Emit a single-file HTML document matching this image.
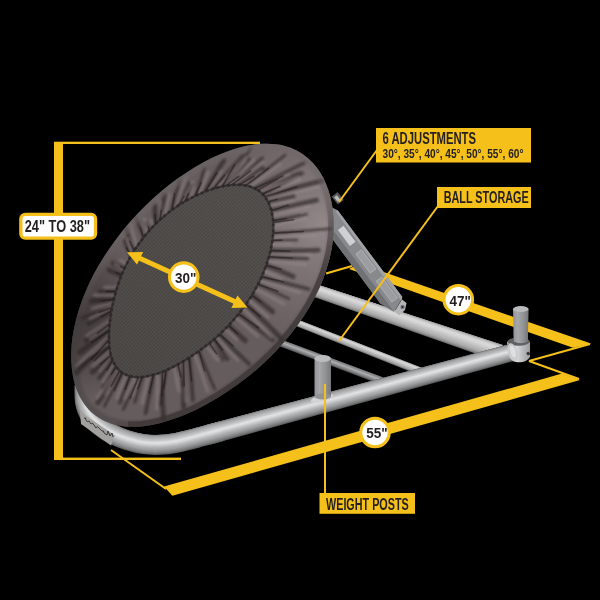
<!DOCTYPE html>
<html><head><meta charset="utf-8"><title>Rebounder dimensions</title>
<style>
html,body{margin:0;padding:0;background:#000;}
body{width:600px;height:600px;overflow:hidden;font-family:"Liberation Sans",sans-serif;}
svg{display:block}
text{font-family:"Liberation Sans",sans-serif;font-weight:bold;fill:#231f20}
</style></head><body>
<svg width="600" height="600" viewBox="0 0 600 600">
<defs>
<linearGradient id="gPost" x1="0" y1="0" x2="1" y2="0">
<stop offset="0" stop-color="#939497"/><stop offset="0.3" stop-color="#a6a7a9"/><stop offset="0.7" stop-color="#8f9092"/><stop offset="1" stop-color="#76777a"/>
</linearGradient>
<linearGradient id="gCollar" x1="0" y1="0" x2="1" y2="0">
<stop offset="0" stop-color="#a9abae"/><stop offset="0.4" stop-color="#d9dadb"/><stop offset="1" stop-color="#9a9c9f"/>
</linearGradient>
<radialGradient id="gHi" gradientUnits="userSpaceOnUse" cx="325" cy="225" r="135"><stop offset="0" stop-color="#9c9093" stop-opacity="0.85"/><stop offset="0.45" stop-color="#8a7f82" stop-opacity="0.55"/><stop offset="1" stop-color="#7a7072" stop-opacity="0"/></radialGradient>
<radialGradient id="gLo" gradientUnits="userSpaceOnUse" cx="70" cy="318" r="85"><stop offset="0" stop-color="#2a2425" stop-opacity="0.65"/><stop offset="0.5" stop-color="#2a2425" stop-opacity="0.4"/><stop offset="1" stop-color="#2a2425" stop-opacity="0"/></radialGradient>
<linearGradient id="gMat" gradientUnits="userSpaceOnUse" x1="260" y1="190" x2="130" y2="370">
<stop offset="0" stop-color="#504d4a"/><stop offset="0.5" stop-color="#4d4a47"/><stop offset="1" stop-color="#4a4744"/>
</linearGradient>
<pattern id="mesh" width="2.6" height="2.6" patternUnits="userSpaceOnUse" patternTransform="rotate(-42)">
<rect width="1.3" height="1.3" fill="#000" fill-opacity="0.10"/><rect x="1.3" y="1.3" width="1.3" height="1.3" fill="#fff" fill-opacity="0.05"/>
</pattern>
<filter id="soft" x="-5%" y="-5%" width="110%" height="110%"><feGaussianBlur stdDeviation="0.6"/></filter>
<filter id="soft2" x="-5%" y="-5%" width="110%" height="110%"><feGaussianBlur stdDeviation="1.3"/></filter>
<linearGradient id="gSide" gradientUnits="userSpaceOnUse" x1="0" y1="190" x2="0" y2="270"><stop offset="0" stop-color="#3a3435" stop-opacity="0"/><stop offset="1" stop-color="#3a3435" stop-opacity="0.7"/></linearGradient>
<linearGradient id="gRim" gradientUnits="userSpaceOnUse" x1="230" y1="200" x2="290" y2="380"><stop offset="0" stop-color="#6f6667" stop-opacity="0.5"/><stop offset="0.5" stop-color="#3a3535" stop-opacity="0.25"/><stop offset="1" stop-color="#2a2626" stop-opacity="0.3"/></linearGradient>
<clipPath id="clipCover"><path d="M312.2,162.3 C315.1,165.4 317.7,168.7 320.0,172.3 C322.3,175.9 324.3,179.8 326.0,183.9 C327.7,188.0 329.2,192.3 330.3,196.8 C331.4,201.3 332.3,206.1 332.9,211.0 C333.5,215.9 333.8,221.1 333.7,226.4 C333.6,231.7 333.3,237.2 332.5,242.9 C331.7,248.6 330.6,254.6 329.0,260.6 C327.4,266.6 325.5,272.7 323.1,278.9 C320.7,285.1 317.8,291.5 314.6,297.7 C311.4,303.9 307.7,310.1 303.7,316.2 C299.7,322.2 295.4,328.2 290.8,334.0 C286.2,339.8 281.3,345.4 276.3,350.7 C271.3,356.0 266.0,361.1 260.6,365.9 C255.3,370.7 249.7,375.3 244.2,379.6 C238.7,383.9 233.0,387.9 227.4,391.6 C221.8,395.3 216.1,398.8 210.4,402.0 C204.7,405.2 199.1,408.2 193.4,410.9 C187.7,413.6 182.0,415.9 176.4,418.0 C170.8,420.1 165.2,421.8 159.7,423.2 C154.2,424.6 148.7,425.6 143.4,426.2 C138.1,426.8 133.0,427.0 128.1,426.7 C123.2,426.4 118.4,425.7 114.0,424.5 C109.6,423.3 105.4,421.6 101.6,419.5 C97.8,417.4 94.2,414.9 91.1,412.0 C88.0,409.1 85.3,405.6 82.9,402.0 C80.5,398.4 78.5,394.4 76.8,390.1 C75.1,385.9 73.9,381.3 73.0,376.5 C72.1,371.7 71.5,366.6 71.3,361.4 C71.1,356.2 71.1,350.8 71.6,345.3 C72.1,339.8 72.9,334.1 74.1,328.3 C75.3,322.5 76.8,316.6 78.6,310.6 C80.4,304.6 82.7,298.5 85.2,292.4 C87.7,286.3 90.6,280.2 93.8,274.1 C97.0,268.0 100.6,261.9 104.4,256.0 C108.2,250.1 112.4,244.1 116.7,238.4 C121.0,232.7 125.6,227.0 130.4,221.6 C135.2,216.2 140.2,210.9 145.4,205.8 C150.6,200.8 155.9,195.9 161.3,191.3 C166.7,186.7 172.3,182.4 178.0,178.3 C183.7,174.2 189.4,170.4 195.2,167.0 C201.0,163.6 206.8,160.4 212.6,157.6 C218.4,154.8 224.3,152.4 230.0,150.4 C235.7,148.4 241.4,146.8 246.9,145.7 C252.4,144.6 257.8,143.9 263.0,143.7 C268.2,143.5 273.2,143.8 277.9,144.5 C282.6,145.2 287.1,146.4 291.2,148.0 C295.3,149.6 299.1,151.6 302.6,154.0 C306.1,156.4 309.3,159.2 312.2,162.3Z"/></clipPath>
<clipPath id="clipMat"><path d="M257.9,190.2 C260.1,191.6 262.1,193.4 263.8,195.4 C265.5,197.4 267.0,199.8 268.3,202.3 C269.6,204.8 270.6,207.6 271.4,210.6 C272.2,213.6 272.8,216.8 273.1,220.1 C273.4,223.4 273.5,226.9 273.3,230.5 C273.1,234.1 272.8,237.9 272.2,241.8 C271.6,245.7 270.9,249.6 269.8,253.7 C268.8,257.8 267.4,262.0 265.9,266.2 C264.4,270.4 262.7,274.7 260.7,278.9 C258.7,283.1 256.5,287.4 254.1,291.6 C251.7,295.8 249.0,300.0 246.2,304.0 C243.4,308.0 240.3,311.9 237.2,315.7 C234.1,319.5 230.8,323.2 227.5,326.6 C224.2,330.1 220.8,333.3 217.3,336.4 C213.9,339.5 210.3,342.4 206.8,345.2 C203.3,348.0 199.7,350.6 196.2,353.0 C192.7,355.4 189.1,357.7 185.6,359.9 C182.1,362.1 178.5,364.1 174.9,366.0 C171.3,367.9 167.8,369.6 164.2,371.1 C160.6,372.6 157.1,373.8 153.6,374.8 C150.1,375.8 146.7,376.5 143.4,376.9 C140.1,377.2 136.9,377.3 133.9,376.9 C130.9,376.5 128.1,375.8 125.6,374.6 C123.1,373.5 120.8,371.9 118.9,370.0 C117.0,368.1 115.3,365.8 114.0,363.3 C112.7,360.8 111.6,358.0 110.8,355.0 C110.0,352.0 109.6,348.8 109.3,345.5 C109.0,342.2 109.0,338.8 109.0,335.3 C109.0,331.8 109.3,328.3 109.6,324.7 C109.9,321.1 110.4,317.5 111.0,313.8 C111.6,310.1 112.2,306.3 113.1,302.5 C113.9,298.7 114.9,294.9 116.1,290.9 C117.3,286.9 118.5,282.8 120.1,278.7 C121.7,274.6 123.5,270.3 125.5,266.1 C127.5,261.9 129.9,257.7 132.4,253.5 C134.9,249.3 137.7,245.1 140.7,241.1 C143.7,237.1 146.9,233.2 150.2,229.5 C153.5,225.8 157.0,222.4 160.6,219.2 C164.2,216.0 167.9,212.9 171.5,210.2 C175.1,207.5 178.8,205.0 182.4,202.8 C186.0,200.6 189.7,198.6 193.3,196.8 C196.9,195.0 200.3,193.5 203.8,192.1 C207.3,190.7 210.7,189.5 214.1,188.5 C217.5,187.5 220.8,186.6 224.0,186.0 C227.2,185.4 230.4,185.0 233.5,184.8 C236.6,184.6 239.6,184.7 242.5,185.0 C245.4,185.3 248.1,185.8 250.7,186.7 C253.3,187.6 255.7,188.8 257.9,190.2Z"/></clipPath>
</defs>
<rect width="600" height="600" fill="#000"/>

<g fill="#F5C01A"><rect x="54" y="142" width="9" height="318"/><rect x="54" y="141.7" width="206" height="2.3"/><rect x="54" y="457.6" width="127" height="2.4"/></g>
<polygon points="349,269 359,263.5 591,343.6 573,347.8" fill="#F5C01A"/>
<line x1="326" y1="273.5" x2="352" y2="266" stroke="#F5C01A" stroke-width="2"/>
<line x1="529" y1="361" x2="590" y2="344" stroke="#F5C01A" stroke-width="2"/>
<polygon points="164,486.5 562,373.6 580,380 172.4,495.8" fill="#F5C01A"/>
<line x1="111" y1="450" x2="166" y2="489" stroke="#F5C01A" stroke-width="2"/>
<line x1="529" y1="361" x2="579" y2="379" stroke="#F5C01A" stroke-width="2"/>
<polygon points="298.0,278.2 502.7,345.0 497.3,361.2 294.0,290.0" fill="#6a6a6b"/><polygon points="298.0,278.2 502.7,345.0 497.5,360.5 294.2,289.5" fill="#828283"/><polygon points="298.0,278.2 502.7,345.0 497.8,359.7 294.4,288.9" fill="#929293"/><polygon points="297.9,278.3 502.7,345.2 498.1,358.7 294.6,288.2" fill="#a2a2a3"/><polygon points="297.9,278.5 502.6,345.5 498.5,357.5 294.9,287.3" fill="#b0b0b1"/><polygon points="297.8,278.8 502.5,345.9 499.0,355.9 295.3,286.2" fill="#bababb"/><polygon points="297.6,279.3 502.2,346.5 499.7,353.9 295.8,284.7" fill="#c6c6c7"/><polygon points="297.4,279.9 502.0,347.3 500.3,352.3 296.2,283.5" fill="#d0d0d1"/><polygon points="297.2,280.5 501.7,348.1 500.8,350.7 296.6,282.3" fill="#d8d8d9"/>
<polygon points="291.2,317.1 427.4,370.0 424.6,377.2 288.8,323.3" fill="#6a6a6b"/><polygon points="291.2,317.1 427.4,370.0 424.8,376.6 289.0,322.7" fill="#929293"/><polygon points="291.1,317.3 427.4,370.2 425.2,375.6 289.3,321.9" fill="#b0b0b1"/><polygon points="291.0,317.7 427.2,370.6 425.9,374.0 289.9,320.5" fill="#c6c6c7"/><polygon points="290.7,318.3 426.9,371.3 426.4,372.5 290.4,319.3" fill="#d8d8d9"/>
<polygon points="271.2,335.8 383.3,377.4 380.7,384.6 268.8,342.2" fill="#58595a"/><polygon points="271.2,335.9 383.3,377.5 381.1,383.5 269.2,341.2" fill="#78797a"/><polygon points="270.9,336.5 383.0,378.2 381.5,382.4 269.5,340.3" fill="#8d8e8f"/><polygon points="270.5,337.6 382.6,379.4 381.9,381.4 269.9,339.3" fill="#a2a3a4"/><polygon points="270.3,338.1 382.4,380.0 382.2,380.6 270.1,338.6" fill="#b2b3b4"/>
<path d="M513,309 L528.6,309 L527.8,343 L513.8,343Z" fill="url(#gPost)"/><ellipse cx="520.8" cy="309" rx="7.8" ry="3" fill="#b9bbbd"/>
<polygon points="337.6,210.2 402.2,296.8 402.0,299.1 394.0,311.8 380.4,303.4 315.7,216.6 329.6,206.2" fill="#87898c"/>
<polygon points="337.6,210.2 402.2,296.8 402.0,299.1 401.1,300.7 335.7,211.6" fill="#a1a3a6"/>
<polygon points="320.4,213.1 394.0,311.8 380.4,303.4 315.7,216.6" fill="#707275"/>
<polygon points="343.6,225.7 355.5,241.8 349.9,245.9 337.9,229.9" fill="#cfd0d2"/>
<polygon points="361.5,249.8 375.9,269.0 370.2,273.2 355.9,254.0" fill="#9b9da0" stroke="#bcbdbf" stroke-width="0.7"/>
<polygon points="381.8,277.1 397.4,297.9 391.8,302.1 376.2,281.2" fill="#9b9da0" stroke="#bcbdbf" stroke-width="0.7"/>
<polygon points="394.5,311.5 402,299.5 406.5,303 405,310 399,315.5" fill="#b4b5b7"/>
<circle cx="402.5" cy="307" r="2.2" fill="#77797c"/><circle cx="402.5" cy="307" r="1.1" fill="#2a2a2c"/>
<rect x="334" y="193.5" width="7.5" height="10" fill="#55575a" transform="rotate(-38 337.5 198.5)"/><rect x="335.6" y="195.5" width="3.4" height="5.5" fill="#b9babc" transform="rotate(-38 337.5 198.5)"/>
<path d="M507,342 L530,342 L530,357 Q526,363.5 516,362 Q509,360 507,355Z" fill="url(#gCollar)"/><ellipse cx="518.6" cy="341.6" rx="11.2" ry="4.2" fill="#606164"/>
<path d="M513.8,330 L527.8,330 L527.8,341.5 Q520.8,345 513.8,341.5Z" fill="url(#gPost)"/><circle cx="528.3" cy="353.5" r="1.8" fill="#343537"/>
<defs><path id="tp1" d="M84.5,385.0 C84.6,387.8 84.2,397.1 85.0,402.0 C85.8,406.9 87.1,410.6 89.5,414.5 C91.9,418.4 95.6,422.2 99.5,425.5 C103.4,428.8 108.2,432.0 113.0,434.5 C117.8,437.0 122.8,438.9 128.0,440.5 C133.2,442.1 138.7,443.5 144.0,444.2 C149.3,444.9 154.8,445.0 160.0,444.8 C165.2,444.6 170.0,444.1 175.0,443.2 C180.0,442.3 185.8,440.7 190.0,439.7 C194.2,438.7 194.7,438.5 200.0,437.0 C205.3,435.6 218.3,432.1 222.0,431.1"/></defs><polygon points="205.4,425.2 510.3,344.0 514.7,360.7 210.6,444.5" fill="#5e5f60"/><use href="#tp1" fill="none" stroke="#5e5f60" stroke-width="20.00" stroke-linecap="butt" transform="translate(0.00,0.00)"/><polygon points="205.4,425.2 510.3,344.0 514.5,359.8 210.4,443.5" fill="#727374"/><use href="#tp1" fill="none" stroke="#727374" stroke-width="19.00" stroke-linecap="butt" transform="translate(-0.13,-0.48)"/><polygon points="205.4,425.3 510.3,344.1 514.3,359.0 210.1,442.6" fill="#808182"/><use href="#tp1" fill="none" stroke="#808182" stroke-width="17.90" stroke-linecap="butt" transform="translate(-0.25,-0.92)"/><polygon points="205.5,425.5 510.3,344.3 514.1,358.2 209.8,441.6" fill="#8c8d8e"/><use href="#tp1" fill="none" stroke="#8c8d8e" stroke-width="16.70" stroke-linecap="butt" transform="translate(-0.35,-1.30)"/><polygon points="205.6,426.2 510.5,344.9 513.8,357.2 209.5,440.5" fill="#999a9b"/><use href="#tp1" fill="none" stroke="#999a9b" stroke-width="14.80" stroke-linecap="butt" transform="translate(-0.42,-1.54)"/><polygon points="205.8,426.7 510.6,345.3 513.6,356.5 209.3,439.7" fill="#a2a3a4"/><use href="#tp1" fill="none" stroke="#a2a3a4" stroke-width="13.50" stroke-linecap="butt" transform="translate(-0.46,-1.69)"/><polygon points="206.0,427.3 510.7,345.9 513.4,355.7 209.0,438.7" fill="#aaabac"/><use href="#tp1" fill="none" stroke="#aaabac" stroke-width="11.80" stroke-linecap="butt" transform="translate(-0.49,-1.83)"/><polygon points="206.3,428.5 511.0,346.9 513.1,354.7 208.7,437.6" fill="#b6b7b8"/><use href="#tp1" fill="none" stroke="#b6b7b8" stroke-width="9.40" stroke-linecap="butt" transform="translate(-0.49,-1.83)"/><polygon points="206.6,429.6 511.3,347.8 512.9,353.8 208.5,436.6" fill="#c0c1c2"/><use href="#tp1" fill="none" stroke="#c0c1c2" stroke-width="7.30" stroke-linecap="butt" transform="translate(-0.48,-1.79)"/><polygon points="206.8,430.5 511.5,348.6 512.7,353.2 208.3,435.8" fill="#c8c9ca"/><use href="#tp1" fill="none" stroke="#c8c9ca" stroke-width="5.50" stroke-linecap="butt" transform="translate(-0.46,-1.69)"/><polygon points="207.0,431.2 511.6,349.2 512.6,352.6 208.1,435.1" fill="#d0d1d2"/><use href="#tp1" fill="none" stroke="#d0d1d2" stroke-width="4.10" stroke-linecap="butt" transform="translate(-0.46,-1.69)"/><polygon points="207.1,431.7 511.8,349.6 512.4,352.1 207.9,434.6" fill="#d7d8d9"/><use href="#tp1" fill="none" stroke="#d7d8d9" stroke-width="3.00" stroke-linecap="butt" transform="translate(-0.47,-1.74)"/><polygon points="207.3,432.2 511.9,350.0 512.2,351.4 207.7,433.7" fill="#dfe0e0"/><use href="#tp1" fill="none" stroke="#dfe0e0" stroke-width="1.60" stroke-linecap="butt" transform="translate(-0.52,-1.93)"/>
<ellipse cx="512.6" cy="352.2" rx="4.6" ry="9.3" fill="#c9cbcd" transform="rotate(-15.5 512.6 352.2)"/><ellipse cx="513" cy="351.6" rx="2.6" ry="6" fill="#dfe0e1" transform="rotate(-15.5 513 351.6)"/>
<polygon points="80,411.5 115,435.5 111,445.5 81,424" fill="#a3a19f"/><path d="M84,418 q2,-1 2,2 q1,3 3,1 l2,3 q2,-2 3,1 l2,3 q1,-3 3,0 l3,3 q2,-1 2,2 l3,2 l1,-4 l2,5 l2,-3 l1,4" fill="none" stroke="#2e2c2c" stroke-width="0.9"/>
<ellipse cx="322" cy="398.2" rx="11.5" ry="3.6" fill="#d2d3d4" transform="rotate(-15 322 398.2)"/>
<rect x="314.5" y="358.5" width="16.5" height="38" fill="url(#gPost)"/><ellipse cx="322.75" cy="396.5" rx="8.25" ry="3" fill="#929396"/><ellipse cx="322.75" cy="358.5" rx="8.25" ry="3.5" fill="#bbbcbe"/>
<defs><path id="cov" d="M312.2,162.3 C315.1,165.4 317.7,168.7 320.0,172.3 C322.3,175.9 324.3,179.8 326.0,183.9 C327.7,188.0 329.2,192.3 330.3,196.8 C331.4,201.3 332.3,206.1 332.9,211.0 C333.5,215.9 333.8,221.1 333.7,226.4 C333.6,231.7 333.3,237.2 332.5,242.9 C331.7,248.6 330.6,254.6 329.0,260.6 C327.4,266.6 325.5,272.7 323.1,278.9 C320.7,285.1 317.8,291.5 314.6,297.7 C311.4,303.9 307.7,310.1 303.7,316.2 C299.7,322.2 295.4,328.2 290.8,334.0 C286.2,339.8 281.3,345.4 276.3,350.7 C271.3,356.0 266.0,361.1 260.6,365.9 C255.3,370.7 249.7,375.3 244.2,379.6 C238.7,383.9 233.0,387.9 227.4,391.6 C221.8,395.3 216.1,398.8 210.4,402.0 C204.7,405.2 199.1,408.2 193.4,410.9 C187.7,413.6 182.0,415.9 176.4,418.0 C170.8,420.1 165.2,421.8 159.7,423.2 C154.2,424.6 148.7,425.6 143.4,426.2 C138.1,426.8 133.0,427.0 128.1,426.7 C123.2,426.4 118.4,425.7 114.0,424.5 C109.6,423.3 105.4,421.6 101.6,419.5 C97.8,417.4 94.2,414.9 91.1,412.0 C88.0,409.1 85.3,405.6 82.9,402.0 C80.5,398.4 78.5,394.4 76.8,390.1 C75.1,385.9 73.9,381.3 73.0,376.5 C72.1,371.7 71.5,366.6 71.3,361.4 C71.1,356.2 71.1,350.8 71.6,345.3 C72.1,339.8 72.9,334.1 74.1,328.3 C75.3,322.5 76.8,316.6 78.6,310.6 C80.4,304.6 82.7,298.5 85.2,292.4 C87.7,286.3 90.6,280.2 93.8,274.1 C97.0,268.0 100.6,261.9 104.4,256.0 C108.2,250.1 112.4,244.1 116.7,238.4 C121.0,232.7 125.6,227.0 130.4,221.6 C135.2,216.2 140.2,210.9 145.4,205.8 C150.6,200.8 155.9,195.9 161.3,191.3 C166.7,186.7 172.3,182.4 178.0,178.3 C183.7,174.2 189.4,170.4 195.2,167.0 C201.0,163.6 206.8,160.4 212.6,157.6 C218.4,154.8 224.3,152.4 230.0,150.4 C235.7,148.4 241.4,146.8 246.9,145.7 C252.4,144.6 257.8,143.9 263.0,143.7 C268.2,143.5 273.2,143.8 277.9,144.5 C282.6,145.2 287.1,146.4 291.2,148.0 C295.3,149.6 299.1,151.6 302.6,154.0 C306.1,156.4 309.3,159.2 312.2,162.3Z"/></defs><use href="#cov" fill="#655c5d"/><use href="#cov" fill="url(#gHi)"/><use href="#cov" fill="url(#gLo)"/>
<g clip-path="url(#clipCover)" fill="none" stroke-linecap="round"><g filter="url(#soft2)" stroke="#231e1f" stroke-opacity="0.6"><path d="M273.1,220.5 Q286.4,217.7 299.6,214.9 M273.1,222.5 Q290.0,218.6 306.6,214.2 M273.0,233.1 Q302.0,231.1 331.1,228.6 M272.3,240.4 Q284.7,240.1 297.0,239.9 M257.9,284.3 Q273.5,291.4 288.8,298.7 M199.0,351.0 Q206.4,370.1 214.6,388.8 M166.3,370.1 Q163.7,387.6 160.2,405.0 M142.3,376.9 Q138.5,389.6 134.8,402.4 M138.6,376.9 Q131.3,393.4 123.1,409.6 M122.4,372.4 Q113.2,389.2 104.4,406.4 M109.4,346.2 Q93.7,357.7 77.9,367.3 M112.2,307.5 Q96.2,312.8 80.1,318.4 M130.9,256.3 Q126.5,248.8 123.8,239.9 M143.5,237.7 Q139.6,228.0 135.8,218.1 M149.6,230.2 Q147.6,226.5 145.5,222.7 M171.7,210.1 Q175.3,195.5 179.4,180.5 M178.3,205.6 Q183.2,194.4 188.9,182.8 M195.2,195.9 Q200.9,181.3 204.4,168.1 M222.3,186.4 Q237.9,167.1 251.1,147.9 M225.7,185.8 Q237.9,172.3 249.9,158.7 M245.7,185.7 Q265.8,170.6 285.2,155.0" stroke-width="2.6"/><path d="M257.7,190.1 Q278.2,181.1 299.2,173.1 M262.2,194.0 Q282.4,184.0 302.0,173.2 M268.9,256.7 Q288.1,257.9 307.5,258.5 M261.5,276.8 Q284.9,283.3 308.6,288.9 M238.7,313.8 Q255.6,327.2 272.9,340.3 M219.5,334.2 Q233.3,349.9 249.2,364.0 M214.2,339.0 Q220.6,349.1 227.2,359.2 M209.3,343.1 Q215.8,351.3 222.3,359.6 M189.2,357.6 Q191.7,378.5 192.9,400.1 M178.0,364.2 Q180.2,375.2 182.6,386.3 M153.5,374.8 Q149.6,394.1 145.6,413.3 M130.0,375.8 Q124.8,389.0 120.0,402.5 M112.7,359.9 Q105.9,369.0 99.2,378.1 M109.7,323.9 Q97.8,331.9 85.9,340.9 M111.5,311.1 Q100.2,316.9 88.8,323.5 M116.0,291.2 Q107.9,291.6 99.8,291.9 M134.0,251.1 Q128.9,241.2 126.0,228.9 M185.1,201.3 Q188.0,193.3 190.7,185.3 M213.3,188.8 Q227.3,172.3 242.8,155.9 M231.5,185.1 Q246.7,171.6 262.4,158.4 M254.4,188.5 Q279.0,175.4 304.1,162.8" stroke-width="3.6"/><path d="M264.7,196.7 Q292.7,187.8 321.7,180.9 M268.1,202.0 Q280.7,199.1 293.1,196.3 M271.4,210.7 Q294.0,205.5 316.5,200.2 M270.4,250.6 Q294.2,251.1 318.3,250.2 M266.2,265.3 Q279.9,270.6 293.1,276.5 M251.8,295.1 Q262.4,303.3 272.6,311.7 M245.8,304.5 Q264.9,320.9 282.0,339.4 M228.5,325.5 Q236.8,333.1 245.3,340.6 M183.5,361.1 Q184.4,383.7 183.5,407.0 M162.3,371.8 Q161.8,395.8 163.6,419.2 M119.6,370.5 Q108.8,386.6 97.9,402.6 M116.1,366.2 Q109.8,376.9 103.7,387.8 M111.0,355.5 Q101.7,364.0 92.4,372.1 M109.1,339.9 Q92.6,355.2 76.4,372.8 M109.3,330.3 Q94.7,340.7 80.0,352.3 M113.9,299.5 Q102.6,300.5 91.7,300.8 M121.6,275.2 Q115.2,272.8 109.1,270.1 M124.4,268.6 Q118.8,266.2 113.2,263.6 M155.4,224.4 Q155.0,215.2 154.9,205.8 M159.9,219.9 Q161.5,208.1 164.5,195.4 M205.2,191.6 Q214.8,175.9 223.7,160.4 M239.2,184.9 Q250.8,176.5 262.5,168.4" stroke-width="4.8"/></g><g filter="url(#soft2)"><path d="M259.5,191.6 L298.2,177.0 M264.5,196.5 L300.1,179.4 M266.4,199.4 L320.0,186.4 M269.3,204.8 L292.8,200.2 M272.0,214.0 L309.2,206.4 M273.2,224.4 L290.4,221.2 M273.2,225.7 L305.8,218.4 M272.6,237.6 L315.2,235.7 M271.9,243.5 L291.3,243.6 M269.7,254.1 L310.5,254.9 M267.4,261.5 L305.6,264.6 M263.9,271.1 L281.8,279.7 M259.7,280.7 L299.4,292.4 M255.4,289.1 L283.7,304.0 M248.6,300.2 L267.8,317.3 M243.2,307.9 L271.1,337.1 M235.7,317.4 L257.7,336.1 M225.7,328.4 L236.7,339.2 M216.4,337.1 L237.5,360.2 M210.0,342.5 L219.9,359.8 M206.5,345.4 L216.9,359.9 M194.7,354.0 L207.6,391.2 M184.5,360.5 L185.9,401.0 M179.9,363.2 L178.8,391.1 M174.3,366.3 L177.6,386.1 M162.8,371.6 L158.2,393.5 M157.7,373.4 L156.8,409.0 M149.0,375.7 L142.0,403.5 M138.7,376.9 L132.6,395.1 M135.6,376.9 L124.7,398.2 M126.7,374.9 L117.0,398.0 M119.7,370.6 L106.1,394.2 M118.0,368.8 L97.3,398.1 M114.3,363.7 L103.2,381.7 M111.4,356.5 L100.0,370.8 M110.3,351.9 L93.2,366.1 M109.2,342.8 L84.4,358.1 M109.0,335.7 L76.5,366.0 M109.6,325.6 L90.5,338.6 M110.2,320.3 L87.0,335.6 M112.2,307.5 L90.4,318.4 M113.1,302.8 L92.6,308.4 M115.0,295.3 L94.1,295.0 M117.2,287.6 L104.7,287.3 M124.0,269.5 L114.9,264.3 M126.7,264.0 L120.4,260.3 M132.9,252.7 L128.2,238.7 M136.7,247.0 L130.7,224.3 M147.7,232.5 L144.2,218.7 M153.8,226.0 L151.4,220.1 M159.6,220.2 L160.6,201.5 M164.0,216.4 L169.5,194.4 M176.3,206.9 L186.0,177.2 M181.4,203.5 L192.6,181.4 M189.7,198.8 L194.1,188.0 M199.7,193.9 L208.2,172.2 M208.9,190.3 L221.3,171.1 M216.4,187.9 L245.3,157.4 M225.1,185.9 L244.5,161.2 M229.5,185.3 L253.5,160.4 M234.1,184.8 L263.2,161.2 M241.9,185.0 L261.6,171.8 M249.2,186.4 L280.1,164.2 M257.3,189.9 L289.0,175.0" stroke="#a09496" stroke-opacity="0.34" stroke-width="3.4"/></g><g filter="url(#soft)"><path d="M257.7,190.1 L277.6,179.1 M262.2,194.0 L280.0,186.5 M264.7,196.7 L296.7,187.0 M268.1,202.0 L277.1,199.2 M271.4,210.7 L288.3,205.0 M273.1,220.5 L286.5,218.5 M273.1,222.5 L293.6,219.8 M273.0,233.1 L303.2,231.5 M272.3,240.4 L282.0,240.1 M270.4,250.6 L289.8,251.2 M268.9,256.7 L292.3,258.3 M266.2,265.3 L281.0,269.3 M261.5,276.8 L283.3,281.7 M257.9,284.3 L277.7,291.3 M251.8,295.1 L260.8,301.8 M245.8,304.5 L260.1,316.4 M238.7,313.8 L258.9,328.0 M228.5,325.5 L237.6,333.6 M219.5,334.2 L232.9,345.8 M214.2,339.0 L222.5,350.1 M209.3,343.1 L216.5,353.6 M199.0,351.0 L204.5,370.6 M189.2,357.6 L191.5,380.9 M183.5,361.1 L184.2,385.9 M178.0,364.2 L180.7,376.7 M166.3,370.1 L163.7,387.8 M162.3,371.8 L161.7,395.7 M153.5,374.8 L149.2,393.4 M142.3,376.9 L137.6,388.8 M138.6,376.9 L130.3,397.8 M130.0,375.8 L125.2,389.2 M122.4,372.4 L114.4,390.3 M119.6,370.5 L111.2,386.2 M116.1,366.2 L111.3,374.4 M112.7,359.9 L106.9,370.2 M111.0,355.5 L100.6,364.1 M109.4,346.2 L94.6,360.4 M109.1,339.9 L91.9,358.6 M109.3,330.3 L91.4,342.6 M109.7,323.9 L97.5,333.3 M111.5,311.1 L101.3,316.6 M112.2,307.5 L99.3,312.2 M113.9,299.5 L101.3,300.8 M116.0,291.2 L106.3,291.6 M121.6,275.2 L116.3,272.3 M124.4,268.6 L120.5,266.3 M130.9,256.3 L126.6,247.9 M134.0,251.1 L129.7,241.2 M143.5,237.7 L140.3,227.3 M149.6,230.2 L148.2,227.0 M155.4,224.4 L155.0,214.0 M159.9,219.9 L161.2,210.2 M171.7,210.1 L174.7,193.4 M178.3,205.6 L184.0,196.4 M185.1,201.3 L188.5,193.7 M195.2,195.9 L201.2,182.6 M205.2,191.6 L216.7,173.0 M213.3,188.8 L224.4,175.4 M222.3,186.4 L234.5,165.0 M225.7,185.8 L238.7,176.2 M231.5,185.1 L250.5,170.8 M239.2,184.9 L253.9,176.2 M245.7,185.7 L268.7,168.1 M254.4,188.5 L282.9,176.1" stroke="#1d191a" stroke-opacity="0.55" stroke-width="1.6"/></g><path d="M312.2,162.3 C315.1,165.4 317.7,168.7 320.0,172.3 C322.3,175.9 324.3,179.8 326.0,183.9 C327.7,188.0 329.2,192.3 330.3,196.8 C331.4,201.3 332.3,206.1 332.9,211.0 C333.5,215.9 333.8,221.1 333.7,226.4 C333.6,231.7 333.3,237.2 332.5,242.9 C331.7,248.6 330.6,254.6 329.0,260.6 C327.4,266.6 325.5,272.7 323.1,278.9 C320.7,285.1 317.8,291.5 314.6,297.7 C311.4,303.9 307.7,310.1 303.7,316.2 C299.7,322.2 295.4,328.2 290.8,334.0 C286.2,339.8 281.3,345.4 276.3,350.7 C271.3,356.0 266.0,361.1 260.6,365.9 C255.3,370.7 249.7,375.3 244.2,379.6 C238.7,383.9 233.0,387.9 227.4,391.6 C221.8,395.3 216.1,398.8 210.4,402.0 C204.7,405.2 199.1,408.2 193.4,410.9 C187.7,413.6 182.0,415.9 176.4,418.0 C170.8,420.1 165.2,421.8 159.7,423.2 C154.2,424.6 148.7,425.6 143.4,426.2 C138.1,426.8 133.0,427.0 128.1,426.7 C123.2,426.4 118.4,425.7 114.0,424.5 C109.6,423.3 105.4,421.6 101.6,419.5 C97.8,417.4 94.2,414.9 91.1,412.0 C88.0,409.1 85.3,405.6 82.9,402.0 C80.5,398.4 78.5,394.4 76.8,390.1 C75.1,385.9 73.9,381.3 73.0,376.5 C72.1,371.7 71.5,366.6 71.3,361.4 C71.1,356.2 71.1,350.8 71.6,345.3 C72.1,339.8 72.9,334.1 74.1,328.3 C75.3,322.5 76.8,316.6 78.6,310.6 C80.4,304.6 82.7,298.5 85.2,292.4 C87.7,286.3 90.6,280.2 93.8,274.1 C97.0,268.0 100.6,261.9 104.4,256.0 C108.2,250.1 112.4,244.1 116.7,238.4 C121.0,232.7 125.6,227.0 130.4,221.6 C135.2,216.2 140.2,210.9 145.4,205.8 C150.6,200.8 155.9,195.9 161.3,191.3 C166.7,186.7 172.3,182.4 178.0,178.3 C183.7,174.2 189.4,170.4 195.2,167.0 C201.0,163.6 206.8,160.4 212.6,157.6 C218.4,154.8 224.3,152.4 230.0,150.4 C235.7,148.4 241.4,146.8 246.9,145.7 C252.4,144.6 257.8,143.9 263.0,143.7 C268.2,143.5 273.2,143.8 277.9,144.5 C282.6,145.2 287.1,146.4 291.2,148.0 C295.3,149.6 299.1,151.6 302.6,154.0 C306.1,156.4 309.3,159.2 312.2,162.3Z" stroke="url(#gRim)" stroke-width="12" filter="url(#soft2)"/><path d="M326.0,183.9 C326.7,186.1 329.2,192.3 330.3,196.8 C331.4,201.3 332.3,206.1 332.9,211.0 C333.5,215.9 333.8,221.1 333.7,226.4 C333.6,231.7 333.3,237.2 332.5,242.9 C331.7,248.6 330.6,254.6 329.0,260.6 C327.4,266.6 325.5,272.7 323.1,278.9 C320.7,285.1 317.8,291.5 314.6,297.7 C311.4,303.9 307.7,310.1 303.7,316.2 C299.7,322.2 295.4,328.2 290.8,334.0 C286.2,339.8 281.3,345.4 276.3,350.7 C271.3,356.0 266.0,361.1 260.6,365.9 C255.3,370.7 249.7,375.3 244.2,379.6 C238.7,383.9 233.0,387.9 227.4,391.6 C221.8,395.3 216.1,398.8 210.4,402.0 C204.7,405.2 199.1,408.2 193.4,410.9 C187.7,413.6 182.0,415.9 176.4,418.0 C170.8,420.1 165.2,421.8 159.7,423.2 C154.2,424.6 148.7,425.6 143.4,426.2 C138.1,426.8 130.7,426.6 128.1,426.7" stroke="url(#gSide)" stroke-width="11" filter="url(#soft)" stroke-linecap="butt"/></g>
<path d="M257.9,190.2 C260.1,191.6 262.1,193.4 263.8,195.4 C265.5,197.4 267.0,199.8 268.3,202.3 C269.6,204.8 270.6,207.6 271.4,210.6 C272.2,213.6 272.8,216.8 273.1,220.1 C273.4,223.4 273.5,226.9 273.3,230.5 C273.1,234.1 272.8,237.9 272.2,241.8 C271.6,245.7 270.9,249.6 269.8,253.7 C268.8,257.8 267.4,262.0 265.9,266.2 C264.4,270.4 262.7,274.7 260.7,278.9 C258.7,283.1 256.5,287.4 254.1,291.6 C251.7,295.8 249.0,300.0 246.2,304.0 C243.4,308.0 240.3,311.9 237.2,315.7 C234.1,319.5 230.8,323.2 227.5,326.6 C224.2,330.1 220.8,333.3 217.3,336.4 C213.9,339.5 210.3,342.4 206.8,345.2 C203.3,348.0 199.7,350.6 196.2,353.0 C192.7,355.4 189.1,357.7 185.6,359.9 C182.1,362.1 178.5,364.1 174.9,366.0 C171.3,367.9 167.8,369.6 164.2,371.1 C160.6,372.6 157.1,373.8 153.6,374.8 C150.1,375.8 146.7,376.5 143.4,376.9 C140.1,377.2 136.9,377.3 133.9,376.9 C130.9,376.5 128.1,375.8 125.6,374.6 C123.1,373.5 120.8,371.9 118.9,370.0 C117.0,368.1 115.3,365.8 114.0,363.3 C112.7,360.8 111.6,358.0 110.8,355.0 C110.0,352.0 109.6,348.8 109.3,345.5 C109.0,342.2 109.0,338.8 109.0,335.3 C109.0,331.8 109.3,328.3 109.6,324.7 C109.9,321.1 110.4,317.5 111.0,313.8 C111.6,310.1 112.2,306.3 113.1,302.5 C113.9,298.7 114.9,294.9 116.1,290.9 C117.3,286.9 118.5,282.8 120.1,278.7 C121.7,274.6 123.5,270.3 125.5,266.1 C127.5,261.9 129.9,257.7 132.4,253.5 C134.9,249.3 137.7,245.1 140.7,241.1 C143.7,237.1 146.9,233.2 150.2,229.5 C153.5,225.8 157.0,222.4 160.6,219.2 C164.2,216.0 167.9,212.9 171.5,210.2 C175.1,207.5 178.8,205.0 182.4,202.8 C186.0,200.6 189.7,198.6 193.3,196.8 C196.9,195.0 200.3,193.5 203.8,192.1 C207.3,190.7 210.7,189.5 214.1,188.5 C217.5,187.5 220.8,186.6 224.0,186.0 C227.2,185.4 230.4,185.0 233.5,184.8 C236.6,184.6 239.6,184.7 242.5,185.0 C245.4,185.3 248.1,185.8 250.7,186.7 C253.3,187.6 255.7,188.8 257.9,190.2Z" fill="url(#gMat)" stroke="#2f2a2b" stroke-opacity="0.8" stroke-width="2"/>
<rect x="100" y="180" width="180" height="200" fill="url(#mesh)" clip-path="url(#clipMat)"/>
<path d="M257.9,190.2 C260.1,191.6 262.1,193.4 263.8,195.4 C265.5,197.4 267.0,199.8 268.3,202.3 C269.6,204.8 270.6,207.6 271.4,210.6 C272.2,213.6 272.8,216.8 273.1,220.1 C273.4,223.4 273.5,226.9 273.3,230.5 C273.1,234.1 272.8,237.9 272.2,241.8 C271.6,245.7 270.9,249.6 269.8,253.7 C268.8,257.8 267.4,262.0 265.9,266.2 C264.4,270.4 262.7,274.7 260.7,278.9 C258.7,283.1 256.5,287.4 254.1,291.6 C251.7,295.8 249.0,300.0 246.2,304.0 C243.4,308.0 240.3,311.9 237.2,315.7 C234.1,319.5 230.8,323.2 227.5,326.6 C224.2,330.1 220.8,333.3 217.3,336.4 C213.9,339.5 210.3,342.4 206.8,345.2 C203.3,348.0 199.7,350.6 196.2,353.0 C192.7,355.4 189.1,357.7 185.6,359.9 C182.1,362.1 178.5,364.1 174.9,366.0 C171.3,367.9 167.8,369.6 164.2,371.1 C160.6,372.6 157.1,373.8 153.6,374.8 C150.1,375.8 146.7,376.5 143.4,376.9 C140.1,377.2 136.9,377.3 133.9,376.9 C130.9,376.5 128.1,375.8 125.6,374.6 C123.1,373.5 120.8,371.9 118.9,370.0 C117.0,368.1 115.3,365.8 114.0,363.3 C112.7,360.8 111.6,358.0 110.8,355.0 C110.0,352.0 109.6,348.8 109.3,345.5 C109.0,342.2 109.0,338.8 109.0,335.3 C109.0,331.8 109.3,328.3 109.6,324.7 C109.9,321.1 110.4,317.5 111.0,313.8 C111.6,310.1 112.2,306.3 113.1,302.5 C113.9,298.7 114.9,294.9 116.1,290.9 C117.3,286.9 118.5,282.8 120.1,278.7 C121.7,274.6 123.5,270.3 125.5,266.1 C127.5,261.9 129.9,257.7 132.4,253.5 C134.9,249.3 137.7,245.1 140.7,241.1 C143.7,237.1 146.9,233.2 150.2,229.5 C153.5,225.8 157.0,222.4 160.6,219.2 C164.2,216.0 167.9,212.9 171.5,210.2 C175.1,207.5 178.8,205.0 182.4,202.8 C186.0,200.6 189.7,198.6 193.3,196.8 C196.9,195.0 200.3,193.5 203.8,192.1 C207.3,190.7 210.7,189.5 214.1,188.5 C217.5,187.5 220.8,186.6 224.0,186.0 C227.2,185.4 230.4,185.0 233.5,184.8 C236.6,184.6 239.6,184.7 242.5,185.0 C245.4,185.3 248.1,185.8 250.7,186.7 C253.3,187.6 255.7,188.8 257.9,190.2Z" fill="none" stroke="#262122" stroke-opacity="0.55" stroke-width="3" stroke-dasharray="2.5 3"/>
<g stroke="#F5C01A" stroke-width="2"><line x1="377" y1="150" x2="339" y2="202"/><line x1="438" y1="206" x2="339" y2="341"/><line x1="325" y1="384" x2="325" y2="494"/></g>
<line x1="137" y1="257" x2="238" y2="303" stroke="#F5C01A" stroke-width="5"/>
<polygon points="127,252.3 143.2,252 137,264.6" fill="#F5C01A"/>
<polygon points="247.5,307.6 231.3,308 237.5,295.4" fill="#F5C01A"/>
<g opacity="0.999">
<circle cx="183.75" cy="277.1" r="14.25" fill="#fff" stroke="#F5C01A" stroke-width="3.1"/><text x="174.95" y="282.90000000000003" font-size="15.2" textLength="21.4" lengthAdjust="spacingAndGlyphs">30&quot;</text>
<circle cx="458.3" cy="299.7" r="14.25" fill="#fff" stroke="#F5C01A" stroke-width="3.1"/><text x="449.5" y="305.5" font-size="15.2" textLength="21.4" lengthAdjust="spacingAndGlyphs">47&quot;</text>
<circle cx="375" cy="432.5" r="14.25" fill="#fff" stroke="#F5C01A" stroke-width="3.1"/><text x="366.2" y="438.3" font-size="15.2" textLength="21.4" lengthAdjust="spacingAndGlyphs">55&quot;</text>
<rect x="20.85" y="214.45" width="74.7" height="23.7" rx="4.5" fill="#fff" stroke="#F5C01A" stroke-width="3.3"/>
<text x="24.7" y="232" font-size="15.6" textLength="65.3" lengthAdjust="spacingAndGlyphs">24&quot; TO 38&quot;</text>
<rect x="376" y="128" width="155" height="34.5" fill="#F5C01A"/>
<text x="382.5" y="143.8" font-size="16" textLength="93.5" lengthAdjust="spacingAndGlyphs">6 ADJUSTMENTS</text>
<text x="382.5" y="158" font-size="12" textLength="141" lengthAdjust="spacingAndGlyphs">30°, 35°, 40°, 45°, 50°, 55°, 60°</text>
<rect x="437" y="187" width="94" height="21" fill="#F5C01A"/>
<text x="443.7" y="203" font-size="16" textLength="85" lengthAdjust="spacingAndGlyphs">BALL STORAGE</text>
<rect x="319.5" y="493" width="95.5" height="20.8" fill="#F5C01A"/>
<text x="326" y="510.3" font-size="16" textLength="82.7" lengthAdjust="spacingAndGlyphs">WEIGHT POSTS</text>
</g>
</svg></body></html>
